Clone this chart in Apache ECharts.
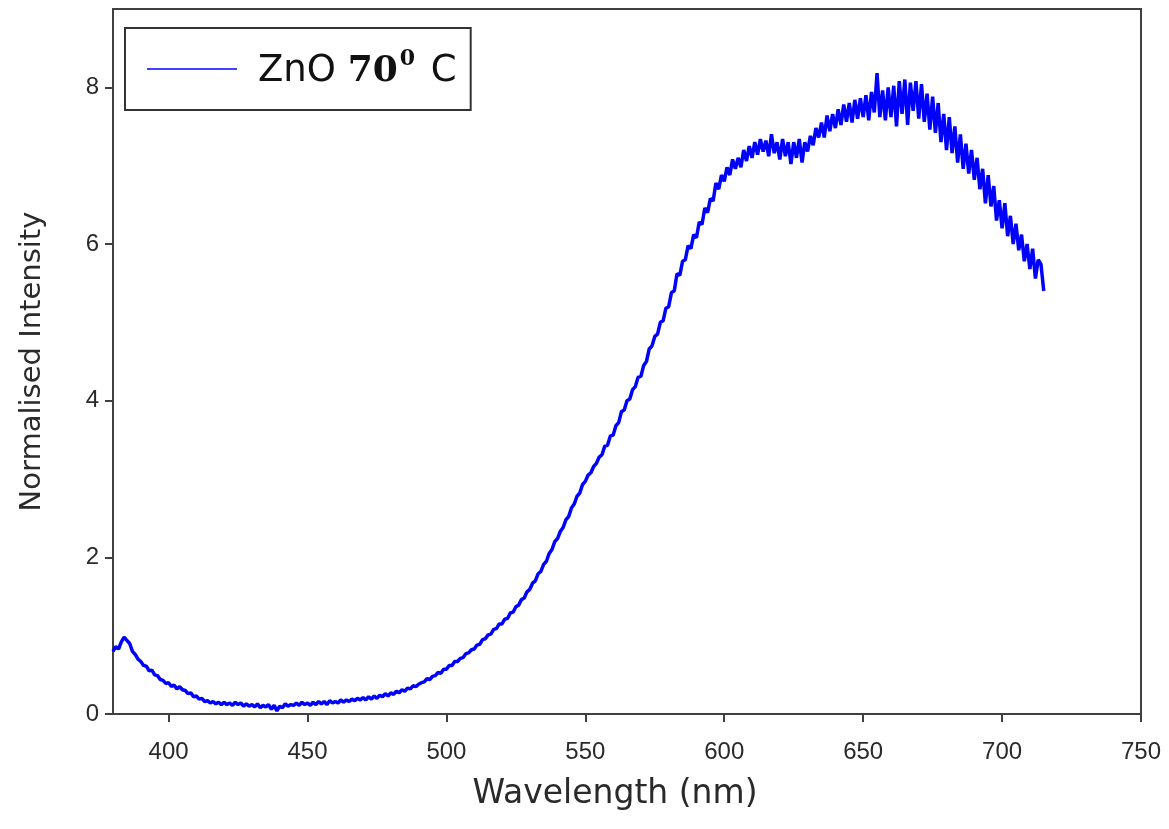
<!DOCTYPE html>
<html>
<head>
<meta charset="utf-8">
<script src="https://cdn.jsdelivr.net/npm/echarts@6/dist/echarts.min.js"></script>
<style>html,body{margin:0;padding:0;background:#fff}#c{width:1169px;height:829px}</style>
</head>
<body>
<div id="c"></div>
<script>
// Wavelength grid (nm): one reading per nm starting at 380
const wavelengthStart = 380;
const wavelengthStep = 1;
// Normalised intensity, 380..715 nm
const intensity = [
0.80,0.86,0.83,0.92,0.98,0.94,0.90,0.80,0.76,0.70,
0.67,0.62,0.61,0.55,0.56,0.50,0.49,0.44,0.43,0.39,
0.40,0.35,0.37,0.32,0.35,0.31,0.30,0.26,0.27,0.22,
0.23,0.19,0.20,0.16,0.17,0.14,0.16,0.13,0.15,0.12,
0.15,0.12,0.14,0.11,0.15,0.12,0.14,0.10,0.13,0.10,
0.12,0.09,0.13,0.08,0.11,0.09,0.12,0.06,0.11,0.04,
0.10,0.08,0.13,0.10,0.12,0.11,0.14,0.11,0.15,0.12,
0.14,0.11,0.15,0.12,0.16,0.13,0.16,0.12,0.17,0.14,
0.16,0.14,0.18,0.15,0.18,0.16,0.19,0.17,0.20,0.18,
0.21,0.18,0.22,0.19,0.23,0.20,0.24,0.22,0.26,0.23,
0.27,0.25,0.29,0.27,0.31,0.29,0.33,0.32,0.36,0.35,
0.38,0.40,0.41,0.45,0.44,0.48,0.49,0.53,0.52,0.57,
0.57,0.62,0.62,0.67,0.67,0.71,0.72,0.77,0.78,0.82,
0.83,0.88,0.89,0.95,0.96,1.01,1.02,1.08,1.09,1.15,
1.15,1.21,1.22,1.29,1.30,1.37,1.39,1.46,1.48,1.56,
1.59,1.67,1.70,1.79,1.82,1.91,1.95,2.05,2.10,2.20,
2.24,2.33,2.38,2.48,2.52,2.63,2.68,2.78,2.82,2.93,
2.97,3.05,3.08,3.16,3.20,3.28,3.31,3.42,3.43,3.55,
3.56,3.68,3.72,3.86,3.88,4.00,4.02,4.14,4.18,4.30,
4.31,4.45,4.50,4.66,4.70,4.82,4.85,5.00,5.02,5.18,
5.20,5.38,5.40,5.62,5.60,5.78,5.80,5.98,5.94,6.12,
6.08,6.28,6.25,6.46,6.40,6.58,6.55,6.78,6.70,6.88,
6.80,6.98,6.88,7.08,6.96,7.10,6.98,7.20,7.06,7.25,
7.10,7.30,7.14,7.34,7.18,7.32,7.12,7.40,7.16,7.30,
7.08,7.34,7.12,7.30,7.02,7.30,7.10,7.34,7.04,7.30,
7.18,7.38,7.26,7.48,7.36,7.55,7.36,7.64,7.44,7.66,
7.48,7.72,7.52,7.78,7.56,7.80,7.55,7.84,7.60,7.86,
7.62,7.90,7.58,7.94,7.68,8.18,7.62,7.96,7.58,8.00,
7.62,8.02,7.50,8.08,7.66,8.10,7.52,8.06,7.70,8.08,
7.60,8.04,7.56,7.92,7.46,7.88,7.42,7.80,7.30,7.66,
7.20,7.62,7.16,7.50,7.04,7.40,6.96,7.28,6.90,7.20,
6.82,7.10,6.70,6.96,6.52,6.88,6.48,6.74,6.30,6.56,
6.20,6.52,6.10,6.36,6.00,6.26,5.92,6.12,5.78,6.00,
5.68,5.94,5.56,5.80,5.74,5.40
];
const xTicks = [400, 450, 500, 550, 600, 650, 700, 750];
const yTicks = [0, 2, 4, 6, 8];
const seriesName = 'ZnO 70⁰ C';

const points = intensity.map((v, i) => [wavelengthStart + i * wavelengthStep, v]);

const axisCol = '#404040';
const labelCol = '#2a2a2a';
const chart = echarts.init(document.getElementById('c'), null, {renderer: 'canvas'});
chart.setOption({
  animation: false,
  backgroundColor: '#ffffff',
  grid: {left: 113, right: 28, top: 9, bottom: 115, show: true, borderColor: axisCol, borderWidth: 2, backgroundColor: 'transparent'},
  legend: {
    left: 125, top: 28,
    padding: [20, 14, 20, 22],
    borderColor: '#333', borderWidth: 2,
    icon: 'rect', itemWidth: 90, itemHeight: 2,
    itemStyle: {color: '#4040ff'},
    data: [seriesName],
    formatter: () => '{a|ZnO }{b|70}{s|0}{a| C}',
    textStyle: {
      padding: [0, 0, 0, 16],
      rich: {
        a: {fontFamily: 'DejaVu Sans', fontSize: 37, color: '#111', lineHeight: 42, verticalAlign: 'bottom'},
        b: {fontFamily: 'DejaVu Serif', fontWeight: 'bold', fontSize: 36, color: '#111', lineHeight: 42, verticalAlign: 'bottom'},
        s: {fontFamily: 'DejaVu Serif', fontWeight: 'bold', fontSize: 22, color: '#111', verticalAlign: 'top', padding: [0, 4, 0, 2]}
      }
    }
  },
  xAxis: {
    type: 'value', min: 380, max: 750,
    name: 'Wavelength (nm)', nameLocation: 'middle', nameGap: 64,
    nameTextStyle: {fontFamily: 'DejaVu Sans', fontSize: 33, color: labelCol, padding: [0, 24, 0, 0]},
    axisLine: {show: true, onZero: false, lineStyle: {color: axisCol, width: 2}},
    axisTick: {show: true, length: 8, inside: false, customValues: xTicks, lineStyle: {color: axisCol, width: 2}},
    axisLabel: {customValues: xTicks, margin: 26, fontFamily: 'Liberation Sans', fontSize: 24, color: labelCol},
    splitLine: {show: false}
  },
  yAxis: {
    type: 'value', min: 0, max: 9,
    name: 'Normalised Intensity', nameLocation: 'middle', nameGap: 66,
    nameTextStyle: {fontFamily: 'DejaVu Sans', fontSize: 29, color: labelCol},
    axisLine: {show: true, onZero: false, lineStyle: {color: axisCol, width: 2}},
    axisTick: {show: true, length: 8, inside: false, customValues: yTicks, lineStyle: {color: axisCol, width: 2}},
    axisLabel: {customValues: yTicks, margin: 14, fontFamily: 'Liberation Sans', fontSize: 24, color: labelCol},
    splitLine: {show: false}
  },
  series: [{
    name: seriesName,
    type: 'line',
    data: points,
    showSymbol: false,
    symbol: 'none',
    lineStyle: {color: '#0000ff', width: 3.5},
    itemStyle: {color: '#0000ff'}
  }]
});
</script>
</body>
</html>
